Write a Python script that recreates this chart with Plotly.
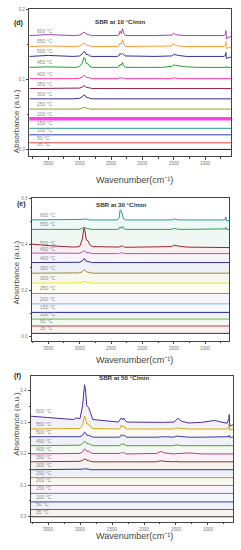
import plotly.graph_objects as go

# ---------------- data ----------------
TEMPS = ["35 °C", "50 °C", "100 °C", "150 °C", "200 °C", "250 °C", "300 °C",
         "350 °C", "400 °C", "450 °C", "500 °C", "550 °C", "600 °C"]

WN = [3800, 3600, 3500, 3100, 3060, 3000, 2960, 2930, 2915, 2895, 2865, 2840, 2800,
      2400, 2370, 2355, 2335, 2315, 2300, 2270, 1800, 1740, 1680, 1530, 1500, 1470,
      1420, 1300, 1100, 1000, 900, 700, 675, 668, 660, 560]
WN_FLAT = [3900, 500]

# stacking offsets (35 -> 600 °C)
D_BASE = [0.0, 0.0095, 0.0209, 0.0302, 0.0440, 0.0577, 0.0723, 0.0870, 0.1011, 0.1173, 0.1329, 0.1471, 0.1627]
E_BASE = [0.013, 0.045, 0.075, 0.104, 0.141, 0.186, 0.231, 0.274, 0.320, 0.359, 0.385, 0.464, 0.505]
F_BASE = [0.0, 0.023, 0.047, 0.074, 0.099, 0.124, 0.149, 0.174, 0.199, 0.225, 0.252, 0.278, 0.318]

# spectra above offset, on WN grid (None = flat)
D_250 = [0, 0, 0, 0, 0, 0, 0.0014, 0.0028, 0.0025, 0.0011, 0.0011, 0, 0, 0, 0, 0, 0, 0, 0, 0, 0, 0, 0, 0, 0, 0, 0, 0, 0, 0, 0, 0, 0, 0, 0, 0]
D_300 = [0, 0.0007, 0, 0, 0, 0.0007, 0.0028, 0.0057, 0.005, 0.0021, 0.0021, 0.0007, 0, 0, 0, 0.0007, 0, 0.0007, 0, 0, 0, 0.0007, 0, 0, 0.0007, 0, 0, 0, 0, 0, 0, 0, 0, 0, 0, 0]
D_350 = [0, 0, 0, 0, 0, 0.0007, 0.0021, 0.0043, 0.0036, 0.0017, 0.0014, 0.0007, 0, 0, 0, 0.0007, 0, 0.0007, 0, 0, 0, 0, 0, 0, 0.0007, 0, 0, 0, 0, 0, 0, 0, 0, 0, 0, 0]
D_400 = [0, 0.0007, 0, 0, 0, 0.0007, 0.0021, 0.0047, 0.0043, 0.0021, 0.0017, 0.0007, 0, 0, 0.0007, 0.0014, 0.0007, 0.0014, 0.0007, 0, 0, 0, 0, 0, 0.0014, 0.0007, 0, 0, 0, 0, 0, 0, 0, 0, 0, 0]
D_450 = [0, 0.0007, 0.0007, 0, 0, 0.0014, 0.0057, 0.0142, 0.0128, 0.0057, 0.005, 0.0014, 0, 0, 0.0014, 0.0043, 0.0028, 0.0071, 0.0028, 0, 0, 0, 0, 0.0014, 0.0036, 0.0028, 0.0021, 0.0007, 0, 0, 0, 0, 0, 0.0014, 0, 0]
D_500 = [0, 0.0014, 0.0014, 0, 0, 0.0007, 0.0036, 0.0071, 0.0064, 0.0028, 0.0028, 0.0007, 0, 0, 0.0014, 0.0043, 0.0028, 0.0043, 0.0028, 0.0007, 0, 0, 0, 0.0007, 0.0028, 0.0021, 0.0014, 0, 0, 0, 0, 0, 0.0014, 0.0057, -0.0028, 0]
D_550 = [0, 0.0007, 0.0007, 0, 0, 0.0007, 0.0028, 0.0047, 0.0043, 0.0021, 0.0017, 0.0007, 0, 0, 0.0014, 0.0047, 0.0028, 0.0095, 0.0043, 0, 0, 0, 0, 0.0007, 0.0043, 0.0014, 0.0007, 0, 0, 0, 0, 0, 0.0021, 0.0071, -0.0028, 0]
D_600 = [0, 0.0014, 0.0014, 0, 0, 0.0007, 0.0028, 0.005, 0.0043, 0.0021, 0.0021, 0.0007, 0, 0, 0.0014, 0.0064, 0.0028, 0.0099, 0.0043, 0, 0, 0, 0, 0.0007, 0.0036, 0.0014, 0.0007, 0, 0, 0, 0, 0, 0.0021, 0.0071, -0.0043, 0]
D_SPEC = [None, None, None, None, None, D_250, D_300, D_350, D_400, D_450, D_500, D_550, D_600]

E_300 = [0, 0, 0, 0, 0, 0.0013, 0.0043, 0.0086, 0.0076, 0.0043, 0.0022, 0, 0, 0, 0, 0, 0, 0, 0, 0, 0, 0, 0, 0, 0, 0, 0, 0, 0, 0, 0, 0, 0, 0, 0, 0]
E_350 = [0, 0, 0, 0, 0, 0.0013, 0.0065, 0.0151, 0.013, 0.0065, 0.0043, 0.0013, 0, 0, 0, 0.0013, 0, 0.0013, 0, 0, 0, 0.0022, 0.0013, 0, 0.0022, 0.0013, 0, 0, 0, 0, 0, 0, 0, 0, 0, 0]
E_400 = [0, 0, 0, 0, 0, 0.0013, 0.0065, 0.0173, 0.0151, 0.0065, 0.0043, 0.0013, 0, 0, 0, 0.0013, 0, 0.0013, 0, 0, 0, 0, 0, 0, 0, 0, 0, 0, 0, 0, 0, 0, 0, 0, 0, 0]
E_450 = [0.0022, 0.0013, 0.0013, 0, 0, 0.0013, 0.0065, 0.013, 0.0108, 0.0043, 0.0043, 0.0013, 0, 0, 0, 0.0043, 0.0013, 0.0043, 0.0013, 0, 0, 0, 0, 0, 0.0022, 0.0013, 0, 0, 0, 0, 0, 0, 0, 0, 0, 0]
E_500 = [0.016, 0.011, 0.0086, 0.0022, 0.0022, 0.0043, 0.0346, 0.0864, 0.0734, 0.0346, 0.029, 0.013, 0.0043, 0.0013, 0.0022, 0.0065, 0.0043, 0.0086, 0.0043, 0.0013, 0.0022, 0.0022, 0.0013, 0.0043, 0.0108, 0.0086, 0.0065, 0.0022, 0.0022, 0.0013, 0, 0, 0, 0.0022, 0, 0]
E_550 = [0, 0, 0, 0, 0, 0, 0.0043, 0.0086, 0.0086, 0.0043, 0.0022, 0, 0, 0, 0.0022, 0.0108, 0.0043, 0.013, 0.0043, 0, 0, 0, 0, 0, 0.0043, 0.0022, 0, 0, 0, 0, 0, 0, 0.0022, 0.0086, 0, 0]
E_600 = [0, 0, 0, 0, 0, 0, 0.0022, 0.0043, 0.0043, 0.0022, 0.0022, 0, 0, 0, 0.0086, 0.0432, 0.0389, 0.013, 0.0043, 0, 0, 0, 0, 0, 0.0043, 0.0022, 0, 0, 0, 0, 0, 0, 0.0043, 0.013, -0.0043, 0]
E_SPEC = [None, None, None, None, None, None, E_300, E_350, E_400, E_450, E_500, E_550, E_600]

F_300 = [0, 0, 0, 0, 0, 0, 0.0016, 0.0032, 0.0032, 0.0016, 0.0016, 0, 0, 0, 0, 0, 0, 0, 0, 0, 0, 0, 0, 0, 0, 0, 0, 0, 0, 0, 0, 0, 0, 0, 0, 0]
F_350 = [0, 0, 0, 0, 0, 0.0016, 0.0047, 0.0095, 0.0095, 0.0047, 0.0047, 0.0016, 0, 0, 0, 0.0016, 0, 0.0016, 0, 0, 0, 0.0032, 0.0016, 0, 0.0016, 0, 0, 0, 0, 0, 0, 0, 0, 0, 0, 0]
F_400 = [0, 0, 0, 0, 0.0016, 0.0016, 0.0063, 0.0158, 0.0142, 0.0079, 0.0095, 0.0047, 0.0016, 0, 0.0016, 0.0047, 0.0032, 0.0047, 0.0016, 0, 0.0016, 0.0079, 0.0032, 0, 0.0016, 0.0016, 0.0016, 0.0032, 0, 0, 0, 0, 0, 0, 0, 0]
F_450 = [0, 0, 0, 0, 0.0016, 0.0016, 0.0063, 0.0142, 0.0126, 0.0063, 0.0063, 0.0032, 0, 0, 0.0016, 0.0063, 0.0032, 0.0063, 0.0016, 0, 0, 0.0016, 0.0016, 0, 0.0032, 0.0016, 0, 0, 0, 0, 0, 0, 0, 0.0032, 0, 0]
F_500 = [0.0016, 0.0016, 0.0016, 0, 0.0016, 0.0016, 0.0063, 0.0158, 0.0142, 0.0063, 0.0063, 0.0032, 0, 0, 0.0016, 0.0079, 0.0047, 0.0063, 0.0032, 0, 0, 0.0016, 0.0016, 0, 0.0032, 0.0032, 0.0016, 0, 0, 0, 0, 0, 0.0016, 0.0063, 0, 0]
F_550 = [0, 0, 0, 0, 0.0016, 0.0016, 0.0126, 0.041, 0.0347, 0.0158, 0.0158, 0.0063, 0.0016, 0, 0.0032, 0.0126, 0.0063, 0.0095, 0.0032, 0, 0, 0, 0, 0, 0.0032, 0.0032, 0.0016, 0, 0, 0, 0, 0, 0.0032, 0.0158, -0.0032, 0]
F_600 = [0.001, -0.002, -0.0035, -0.010, -0.005, -0.007, 0.034, 0.100, 0.087, 0.034, 0.028, 0.012, -0.010, -0.018, -0.010, -0.005, -0.011, -0.005, -0.011, -0.018, -0.019, -0.018, -0.019, -0.018, -0.012, -0.006, -0.015, -0.021, -0.019, -0.015, -0.013, -0.022, -0.007, 0.006, -0.030, -0.024]
F_SPEC = [None, None, None, None, None, None, F_300, F_350, F_400, F_450, F_500, F_550, F_600]

D_COLORS = ["#1a1a1a", "#ff4040", "#2f3fbf", "#2a9a8a", "#ff44dd", "#9a9a30", "#303090",
            "#902040", "#ff3090", "#22a030", "#3030a0", "#ff9a30", "#a040b0"]
E_COLORS = ["#333333", "#c04040", "#6ac040", "#2a2a90", "#90b0e8", "#b070e0", "#e8e830",
            "#909030", "#303090", "#b050c0", "#a02030", "#30a050", "#20a090"]
F_COLORS = ["#333333", "#b05020", "#3a3ab0", "#6080a8", "#c060e8", "#b0a020", "#3030a0",
            "#704020", "#c03890", "#50a030", "#3a3ab0", "#d0a818", "#4a30a0"]

TITLES = ["SBR at 10 °C/min", "SBR at 30 °C/min", "SBR at 50 °C/min"]
LETTERS = ["(d)", "(e)", "(f)"]

# ---------------- layout geometry (pixels) ----------------
W, H = 241, 550
panels = [
    dict(x0=29.3, x1=231, y0=7.5, y1=155, xr=[3803, 586], yr=[-0.01, 0.2], dt=0.1,
         base=D_BASE, spec=D_SPEC, colors=D_COLORS, fill=False, lab_x=36,
         ytitle_y=87, xtitle_y=173, letter=(13, 16), title=(120, 15)),
    dict(x0=32, x1=229, y0=196.5, y1=340, xr=[3760, 618], yr=[-0.019, 0.601], dt=0.2,
         base=E_BASE, spec=E_SPEC, colors=E_COLORS, fill=True, lab_x=39,
         ytitle_y=272, xtitle_y=359, letter=(16, 203), title=(121, 203)),
    dict(x0=31, x1=233, y0=375, y1=521.7, xr=[3766, 609], yr=[-0.016, 0.447], dt=0.1,
         base=F_BASE, spec=F_SPEC, colors=F_COLORS, fill=True, lab_x=35,
         ytitle_y=457, xtitle_y=541.5, letter=(13, 380), title=(124, 381)),
]


def rgba(hexc, a):
    h = hexc.lstrip("#")
    return "rgba(%d,%d,%d,%.3f)" % (int(h[0:2], 16), int(h[2:4], 16), int(h[4:6], 16), a)


fig = go.Figure()
layout = dict(width=W, height=H, margin=dict(l=0, r=0, t=0, b=0, pad=0),
              paper_bgcolor="white", plot_bgcolor="white", showlegend=False)
annotations = []
GRAY = "#777777"
FONT = "Liberation Sans, Arial, sans-serif"

for i, p in enumerate(panels):
    n = "" if i == 0 else str(i + 1)
    xa, ya = "x" + n, "y" + n
    for k, t in enumerate(TEMPS):
        b = p["base"][k]
        s = p["spec"][k]
        if s is None:
            xs, ys = WN_FLAT, [b, b]
        else:
            xs, ys = WN, [b + v for v in s]
        c = p["colors"][k]
        width = 1.0
        if i == 0 and k == 4:
            width = 3.5
        tr = dict(x=xs, y=ys, mode="lines", line=dict(color=c, width=width),
                  xaxis=xa, yaxis=ya, hoverinfo="skip")
        if p["fill"] and k > 0:
            tr["fill"] = "tonexty"
            tr["fillcolor"] = rgba(c, 0.07)
        fig.add_trace(go.Scatter(**tr))
        annotations.append(dict(x=p["lab_x"] / W, xref="paper", y=b, yref=ya,
                                text=t, showarrow=False, xanchor="left", yanchor="bottom",
                                yshift=1, borderpad=0,
                                font=dict(size=5, color="#8a8a8a", family=FONT)))

    axis_common = dict(showline=True, linecolor="#444444", linewidth=1, mirror=True,
                       ticks="outside", ticklen=2.5, tickcolor="#444444", tickwidth=1,
                       showgrid=False, zeroline=False,
                       tickfont=dict(size=4.5, color=GRAY, family=FONT))
    layout["xaxis" + n] = dict(domain=[p["x0"] / W, p["x1"] / W], range=p["xr"],
                               anchor=ya, tick0=1000, dtick=500,
                               minor=dict(dtick=250, ticklen=1.5, ticks="outside", tickcolor="#444444"),
                               **axis_common)
    layout["yaxis" + n] = dict(domain=[1 - p["y1"] / H, 1 - p["y0"] / H], range=p["yr"],
                               anchor=xa, tick0=0, dtick=p["dt"], tickformat=".1f",
                               minor=dict(dtick=p["dt"] / 2, ticklen=1.5, ticks="outside", tickcolor="#444444"),
                               **axis_common)
    # axis titles
    annotations.append(dict(x=11 / W, y=1 - p["ytitle_y"] / H, xref="paper", yref="paper",
                            text="Absorbance (a.u.)", textangle=-90, showarrow=False, borderpad=0,
                            font=dict(size=8, color="#444444", family=FONT)))
    annotations.append(dict(x=134 / W, y=1 - p["xtitle_y"] / H, xref="paper", yref="paper",
                            text="Wavenumber(cm⁻¹)", showarrow=False, borderpad=0,
                            font=dict(size=9, color="#444444", family=FONT)))
    annotations.append(dict(x=p["letter"][0] / W, y=1 - p["letter"][1] / H, xref="paper", yref="paper",
                            text="<b>" + LETTERS[i] + "</b>", showarrow=False, borderpad=0,
                            font=dict(size=7, color="#222222", family=FONT)))
    annotations.append(dict(x=p["title"][0] / W, y=1 - p["title"][1] / H, xref="paper", yref="paper",
                            text="<b>" + TITLES[i] + "</b>", showarrow=False, borderpad=0,
                            font=dict(size=6.2, color="#333333", family=FONT)))

layout["annotations"] = annotations
fig.update_layout(**layout)
fig.write_html("out.html", config={"responsive": False, "displayModeBar": False},
               post_script="document.body.style.margin='0';document.body.style.padding='0';document.body.style.overflow='hidden';")
